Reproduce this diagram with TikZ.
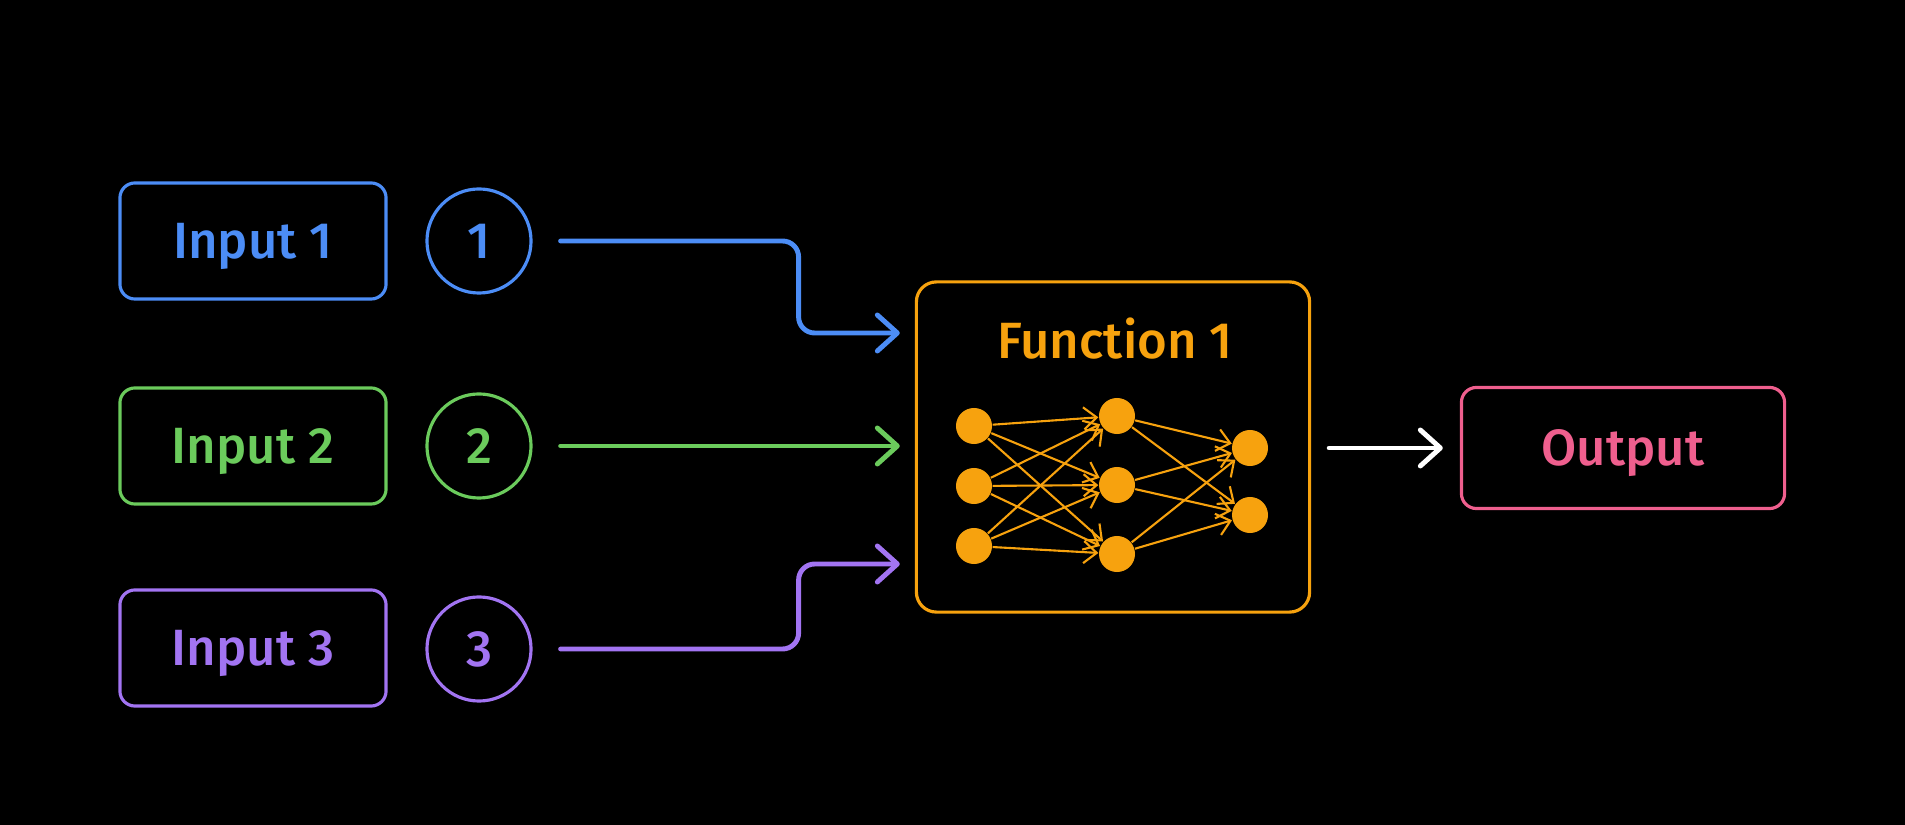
\documentclass[tikz,border=0pt]{standalone}
\usepackage{fontspec}
\setmainfont{Fira Sans}[UprightFont=* Medium]
\usepackage{tikz}
\usetikzlibrary{arrows.meta,positioning,calc}
\pgfdeclarelayer{bg}
\pgfsetlayers{bg,main}
\definecolor{inblue}{HTML}{4C8DF6}
\definecolor{ingreen}{HTML}{6BCB5C}
\definecolor{inpurple}{HTML}{A274F2}
\definecolor{fnorange}{HTML}{F7A20E}
\definecolor{outpink}{HTML}{EF5F8E}

\begin{document}
\begin{tikzpicture}[x=0.01cm, y=-0.01cm,
    inbox/.style={draw, line width=0.9pt, rounded corners=0.15cm, minimum width=2.66cm, minimum height=1.16cm, text height=10pt, text depth=0pt, font=\fontsize{14.5}{17}\selectfont},
    num/.style={draw, circle, line width=0.9pt, minimum size=1.04cm, inner sep=0pt, font=\fontsize{14.5}{17}\selectfont},
    flow/.style={line width=1.4pt, rounded corners=0.16cm, line cap=round, -{Straight Barb[length=0.2cm,width=0.36cm,line cap=round,line join=round]}, shorten <=0.28cm, shorten >=0.15cm},
    unit/.style={circle, fill=fnorange, minimum size=0.36cm, inner sep=0pt},
    wire/.style={fnorange, line width=0.6pt, -{Straight Barb[length=0.13cm,width=0.22cm]}}]

    \begin{pgfonlayer}{bg}    % black page
        \fill [black] (0,0) rectangle (1905,825);
    \end{pgfonlayer}

    \node [inbox, draw=inblue, text=inblue] (in1) at (253,241) {Input 1};
    \node [inbox, draw=ingreen, text=ingreen] (in2) at (253,446) {Input 2};
    \node [inbox, draw=inpurple, text=inpurple] (in3) at (253,648) {Input 3};
    \node [num, draw=inblue, text=inblue] (c1) at (479,241) {1};
    \node [num, draw=ingreen, text=ingreen] (c2) at (479,446) {2};
    \node [num, draw=inpurple, text=inpurple] (c3) at (479,649) {3};

    \node [draw=fnorange, line width=0.9pt, rounded corners=0.2cm, minimum width=3.93cm, minimum height=3.30cm] (fn) at (1113,447) {};
    \node [text=fnorange, text height=10pt, text depth=0pt, font=\fontsize{14.5}{17}\selectfont] (fntitle) at (1115,341) {Function 1};
    \node [inbox, draw=outpink, text=outpink, minimum width=3.23cm, minimum height=1.21cm] (out) at (1623,448) {Output};

    % network inside the function box
    \node [unit] (x1) at (974,426) {};
    \node [unit] (x2) at (974,486) {};
    \node [unit] (x3) at (974,546) {};
    \node [unit] (h1) at (1117,416) {};
    \node [unit] (h2) at (1117,485) {};
    \node [unit] (h3) at (1117,554) {};
    \node [unit] (y1) at (1250,448) {};
    \node [unit] (y2) at (1250,515) {};
    \foreach \a in {1,2,3} {
        \foreach \b in {1,2,3} \draw [wire] (x\a) -- (h\b);
        \foreach \b in {1,2} \draw [wire] (h\a) -- (y\b);
    }

    \draw [flow, inblue] (c1.east) -- ++(266,0) |- ($(fn.west)+(0,-114)$);
    \draw [flow, ingreen] (c2.east) -- (c2.east -| fn.west);
    \draw [flow, inpurple] (c3.east) -- ++(266,0) |- ($(fn.west)+(0,117)$);
    \draw [flow, white, shorten <=0.18cm, shorten >=0.17cm] (fn.east |- out) -- (out.west);
\end{tikzpicture}
\end{document}
